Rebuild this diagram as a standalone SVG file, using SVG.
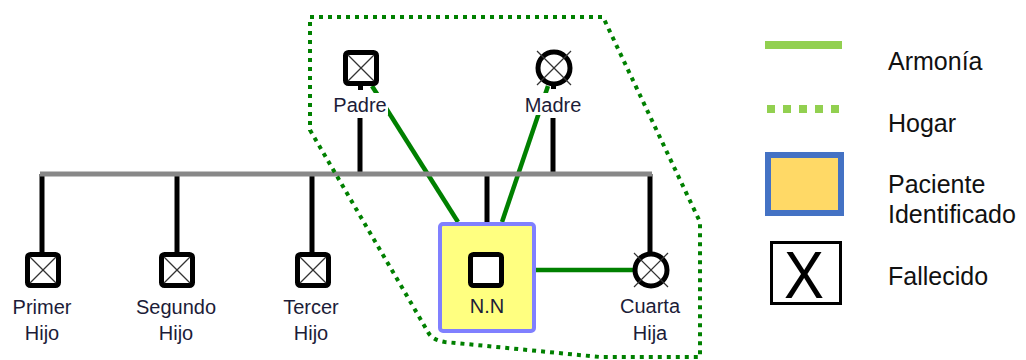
<svg xmlns="http://www.w3.org/2000/svg" xmlns:xlink="http://www.w3.org/1999/xlink" width="1026" height="360" viewBox="0 0 1026 360">
<style>
.lbl{font-family:"Liberation Sans",Arial,sans-serif;font-size:20px;fill:#1c1c38;text-anchor:middle}
.leg{font-family:"Liberation Sans",Arial,sans-serif;font-size:25px;fill:#111}
.sq{fill:#fff;stroke:#000;stroke-width:5}
.xl{stroke:#333;stroke-width:1.2}
.kin{stroke:#000;stroke-width:5}
.sib{stroke:#888;stroke-width:5}
.harm{stroke:#008000;stroke-width:4.5}
.home{fill:none;stroke:#008000;stroke-width:4;stroke-dasharray:4 5}
.bg{fill:#fff}
</style>
<defs>
<g id="mdead">
<rect class="sq" x="-15.5" y="-15.5" width="31" height="31" rx="3"/>
<line class="xl" x1="-13" y1="-13" x2="13" y2="13"/>
<line class="xl" x1="-13" y1="13" x2="13" y2="-13"/>
</g>
<g id="fdead">
<circle class="sq" r="16"/>
<line class="xl" x1="-17" y1="-17" x2="17" y2="17"/>
<line class="xl" x1="-17" y1="17" x2="17" y2="-17"/>
</g>
</defs>

<g id="connectors">
<line class="harm" x1="372" y1="86" x2="458" y2="222"/>
<line class="harm" x1="548" y1="86" x2="502" y2="222"/>
<line class="harm" x1="536" y1="270" x2="634" y2="270"/>
<line class="kin" x1="360" y1="118" x2="360" y2="174"/>
<line class="kin" x1="553" y1="118" x2="553" y2="174"/>
<line class="kin" x1="42" y1="174" x2="42" y2="254"/>
<line class="kin" x1="177" y1="174" x2="177" y2="254"/>
<line class="kin" x1="312" y1="174" x2="312" y2="254"/>
<line class="kin" x1="487" y1="174" x2="487" y2="224"/>
<line class="kin" x1="650" y1="174" x2="650" y2="254"/>
<line class="sib" x1="40" y1="174" x2="652" y2="174"/>
<path class="home" d="M310,17 L603,17 L700,222 L700,357 L600,357 L445,342 Q432,340 428,332 L310,130 Z"/>
</g>

<g id="padre">
<rect x="358" y="84" width="5" height="6" fill="#000"/>
<use xlink:href="#mdead" x="361" y="68"/>
<rect class="bg" x="330" y="93" width="58" height="22"/>
<text class="lbl" x="360" y="112">Padre</text>
</g>
<g id="madre">
<rect x="551" y="84" width="5" height="5" fill="#000"/>
<use xlink:href="#fdead" x="554" y="68"/>
<rect class="bg" x="522" y="93" width="62" height="22"/>
<text class="lbl" x="553" y="112">Madre</text>
</g>
<g id="primer-hijo">
<use xlink:href="#mdead" x="43" y="270"/>
<text class="lbl" x="42" y="314">Primer</text>
<text class="lbl" x="42" y="340">Hijo</text>
</g>
<g id="segundo-hijo">
<use xlink:href="#mdead" x="177" y="270"/>
<text class="lbl" x="176" y="314">Segundo</text>
<text class="lbl" x="176" y="340">Hijo</text>
</g>
<g id="tercer-hijo">
<use xlink:href="#mdead" x="313" y="270"/>
<text class="lbl" x="311" y="314">Tercer</text>
<text class="lbl" x="311" y="340">Hijo</text>
</g>
<g id="nn">
<rect x="440" y="224" width="94" height="107" rx="3" fill="#ffff80" stroke="#8080ff" stroke-width="4"/>
<rect class="sq" x="470.5" y="254.5" width="31" height="31" rx="3"/>
<text class="lbl" x="487" y="313">N.N</text>
</g>
<g id="cuarta-hija">
<use xlink:href="#fdead" x="651" y="270"/>
<text class="lbl" x="650" y="313">Cuarta</text>
<text class="lbl" x="650" y="340">Hija</text>
</g>

<g id="legend">
<g id="leg-armonia">
<line x1="765" y1="45" x2="842" y2="45" stroke="#92d050" stroke-width="8"/>
<text class="leg" x="888" y="70">Armonía</text>
</g>
<g id="leg-hogar">
<line x1="767" y1="109" x2="842" y2="109" stroke="#92d050" stroke-width="8" stroke-dasharray="8 8"/>
<text class="leg" x="888" y="132">Hogar</text>
</g>
<g id="leg-paciente">
<rect x="768" y="155" width="73" height="58" fill="#ffd966" stroke="#4472c4" stroke-width="6"/>
<text class="leg" x="888" y="193">Paciente</text>
<text class="leg" x="888" y="223">Identificado</text>
</g>
<g id="leg-fallecido">
<rect x="771.5" y="242.5" width="69" height="61" fill="#fff" stroke="#000" stroke-width="3"/>
<text x="804" y="298" text-anchor="middle" font-family="'Liberation Sans',Arial,sans-serif" font-size="66" fill="#000" textLength="40" lengthAdjust="spacingAndGlyphs">X</text>
<text class="leg" x="888" y="285">Fallecido</text>
</g>
</g>
</svg>
